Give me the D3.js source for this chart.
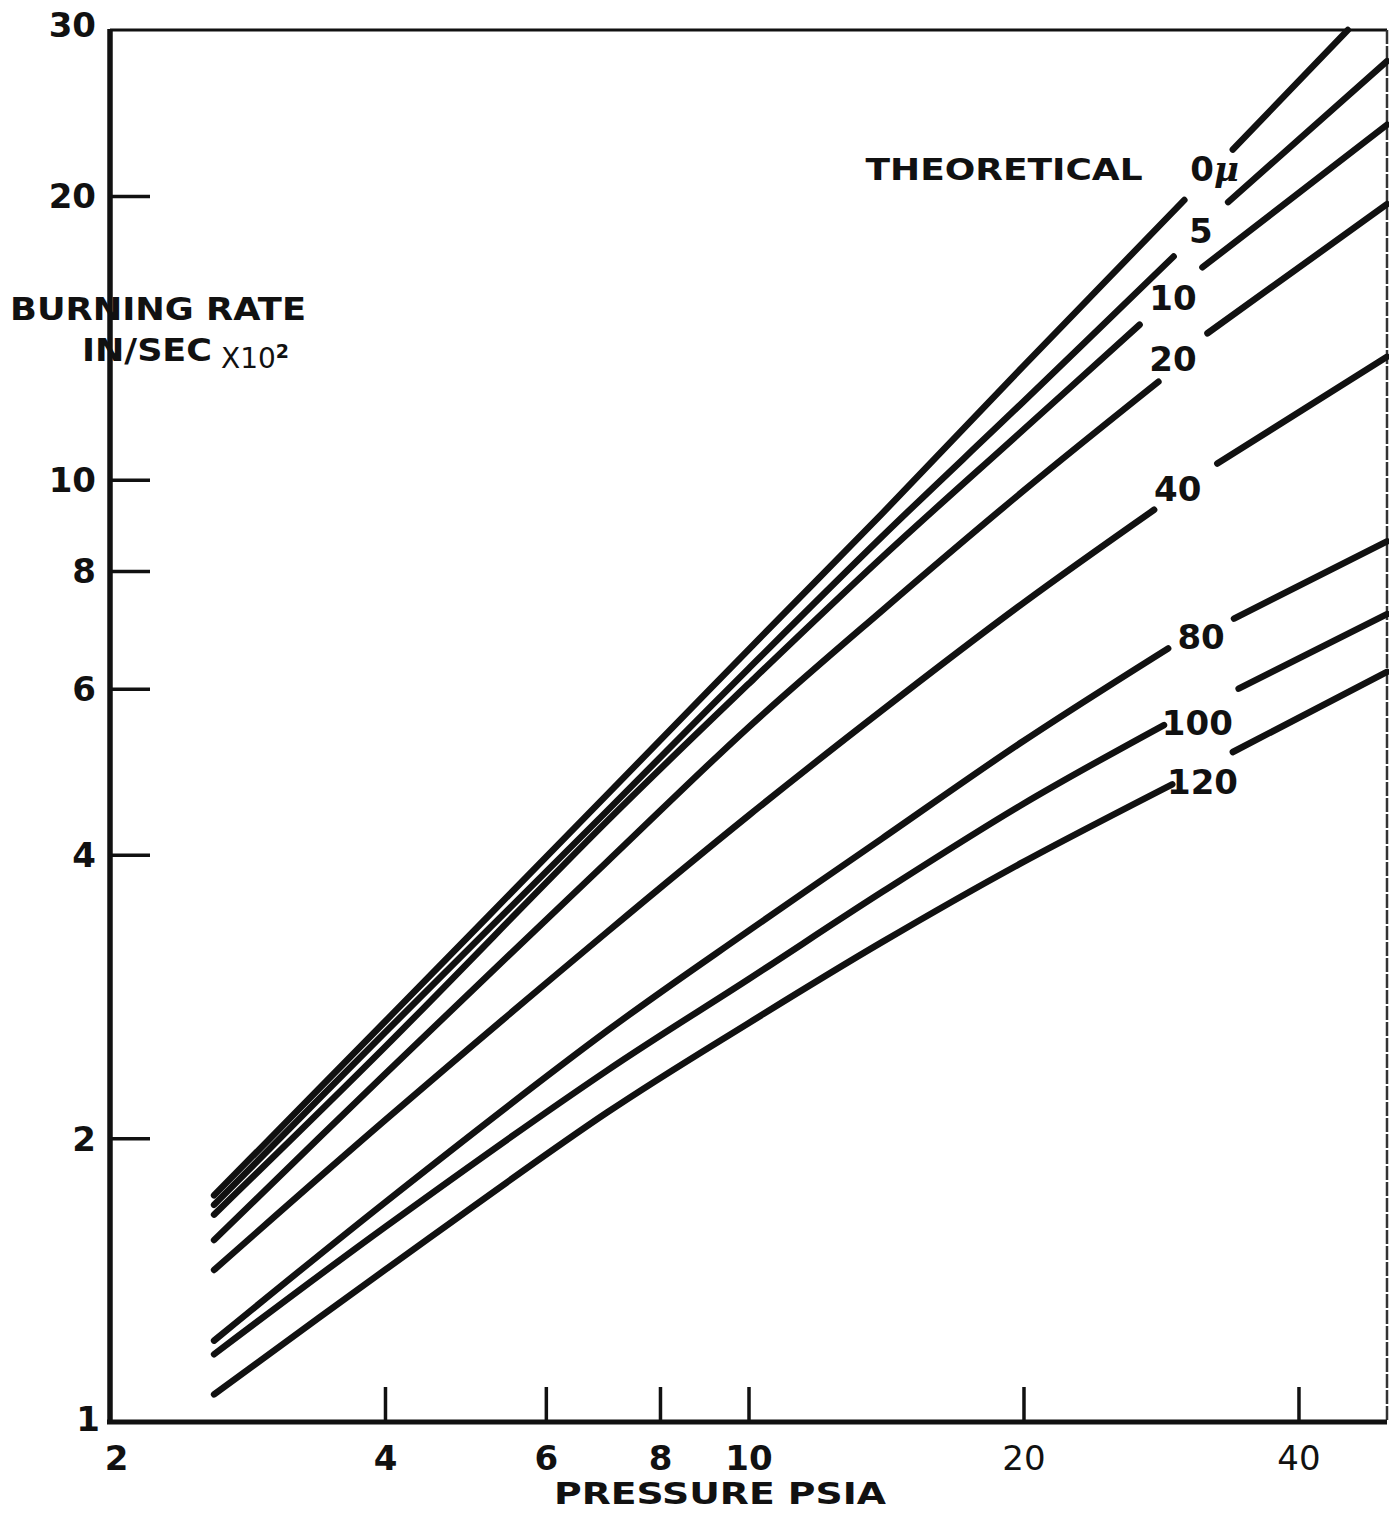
<!DOCTYPE html>
<html>
<head>
<meta charset="utf-8">
<script src="https://cdn.jsdelivr.net/npm/d3@7"></script>
<style>
  html, body { margin: 0; padding: 0; background: #fff; }
  svg { display: block; }
  text { font-family: "DejaVu Sans", sans-serif; fill: #111; }
</style>
</head>
<body>
<svg id="chart" width="1389" height="1513"></svg>
<script>
// particle size labels (microns)
const sizes = ["0", "5", "10", "20", "40", "80", "100", "120"];

// pressure (psia) where the lower part of each curve was read
const pressures = [2.6, 4, 7, 10, 14, 20];

// burning rate, in/sec x 10^2, at those pressures
const rate0 = [1.74, 2.66, 4.63, 6.6, 9.2, 13.2];
const rate5 = [1.70, 2.59, 4.45, 6.3, 8.7, 12.1];
const rate10 = [1.66, 2.50, 4.34, 6.07, 8.27, 11.3];
const rate20 = [1.56, 2.34, 3.93, 5.46, 7.26, 9.73];
const rate40 = [1.45, 2.09, 3.31, 4.40, 5.69, 7.40];
const rate80 = [1.22, 1.71, 2.60, 3.32, 4.16, 5.28];
const rate100 = [1.18, 1.61, 2.36, 2.95, 3.65, 4.53];
const rate120 = [1.07, 1.45, 2.13, 2.65, 3.23, 3.93];
const rates = [rate0, rate5, rate10, rate20, rate40, rate80, rate100, rate120];

// [pressure, rate] where each curve is broken for its label, and where it ends
const breakLow = [[30.0, 19.8], [29.2, 17.25], [26.8, 14.6], [28.1, 12.7], [27.8, 9.29], [28.8, 6.62], [28.5, 5.49], [29.1, 4.75]];
const breakHigh = [[33.9, 22.4], [33.5, 19.7], [31.4, 16.8], [31.8, 14.3], [32.6, 10.4], [34.0, 7.12], [34.4, 6.0], [33.9, 5.14]];
const lineEnd = [[45.3, 30], [50, 27.8], [50, 23.8], [50, 19.6], [50, 13.5], [50, 8.6], [50, 7.2], [50, 6.25]];

// axis ticks
const xTicks = [2, 4, 6, 8, 10, 20, 40];
const yTicks = [1, 2, 4, 6, 8, 10, 20, 30];

var svg = d3.select("#chart");
var plotLeft = 110, plotRight = 1387, plotTop = 30, plotBottom = 1422;

var x = d3.scaleLog().domain([2, 50]).range([plotLeft, plotRight]);
var y = d3.scaleLog().domain([1, 30]).range([plotBottom, plotTop]);

// frame
svg.append("line").attr("x1", plotLeft).attr("x2", plotRight).attr("y1", plotTop).attr("y2", plotTop)
  .attr("stroke", "#111").attr("stroke-width", 3);
svg.append("line").attr("x1", plotRight).attr("x2", plotRight).attr("y1", plotTop).attr("y2", plotBottom)
  .attr("stroke", "#333").attr("stroke-width", 2.5).attr("stroke-dasharray", "14 2");

// y axis: ticks inside, labels outside
var yAxis = svg.append("g")
  .attr("transform", `translate(${plotLeft},0)`)
  .call(d3.axisRight(y).tickValues(yTicks).tickSize(40).tickFormat(d3.format("d")));
yAxis.select(".domain").remove();
yAxis.selectAll(".tick line").attr("stroke", "#111").attr("stroke-width", 3.5)
  .filter(d => d === 1 || d === 30).remove();
yAxis.selectAll(".tick text")
  .attr("x", -14).attr("dy", "0.35em")
  .attr("text-anchor", "end")
  .style("font-size", "34px").style("font-weight", "bold").style("font-family", "DejaVu Sans")
  .attr("fill", "#111");
yAxis.selectAll(".tick").filter(d => d === 30).select("text").attr("dy", "0.2em");
yAxis.selectAll(".tick").filter(d => d === 1).select("text").attr("dy", "0.25em").attr("x", -10);

// x axis: ticks point up, labels below
var xAxis = svg.append("g")
  .attr("transform", `translate(0,${plotBottom})`)
  .call(d3.axisTop(x).tickValues(xTicks).tickSize(35).tickFormat(d3.format("d")));
xAxis.select(".domain").remove();
xAxis.selectAll(".tick line").attr("stroke", "#111").attr("stroke-width", 3.5)
  .filter(d => d === 2).remove();
xAxis.selectAll(".tick text")
  .attr("y", 36).attr("dy", "0.35em")
  .style("font-size", "34px").style("font-weight", "bold").style("font-family", "DejaVu Sans")
  .attr("fill", "#111");
xAxis.selectAll(".tick").filter(d => d === 2).select("text").attr("dx", 6);
xAxis.selectAll(".tick").filter(d => d >= 20).select("text").style("font-weight", "normal");

// axis lines on top of the ticks
svg.append("line").attr("x1", plotLeft).attr("x2", plotLeft).attr("y1", plotTop - 1).attr("y2", plotBottom + 2)
  .attr("stroke", "#111").attr("stroke-width", 5.5);
svg.append("line").attr("x1", plotLeft - 3).attr("x2", plotRight).attr("y1", plotBottom).attr("y2", plotBottom)
  .attr("stroke", "#111").attr("stroke-width", 5);

// axis titles
svg.append("text").attr("x", 10).attr("y", 320).text("BURNING RATE")
  .attr("textLength", 296).attr("lengthAdjust", "spacingAndGlyphs")
  .style("font-size", "32px").style("font-weight", "bold");
svg.append("text").attr("x", 82).attr("y", 361).text("IN/SEC")
  .attr("textLength", 130).attr("lengthAdjust", "spacingAndGlyphs")
  .style("font-size", "32px").style("font-weight", "bold");
var mult = svg.append("text").attr("x", 221).attr("y", 368).style("font-size", "28px");
mult.append("tspan").text("X10");
mult.append("tspan").attr("dy", -10).style("font-size", "19px").style("font-weight", "bold").text("2");

svg.append("text").attr("x", 720).attr("y", 1504).attr("text-anchor", "middle")
  .text("PRESSURE  PSIA")
  .attr("textLength", 332).attr("lengthAdjust", "spacingAndGlyphs")
  .style("font-size", "30px").style("font-weight", "bold");

// curves
var line = d3.line()
  .x(d => x(d[0]))
  .y(d => y(d[1]))
  .curve(d3.curveCatmullRom.alpha(0.5));

var curves = svg.append("g")
  .attr("fill", "none").attr("stroke", "#111")
  .attr("stroke-width", 6.5).attr("stroke-linecap", "round");

// small nudges so each label sits where the original lettering does
var labelDx = [6, 0, 2, -10, -8, 0, -4, 0];
var labelDy = [-6, 2, 2, 2, 2, 4, 16, 14];

sizes.forEach(function (s, i) {
  var lower = pressures.map((p, j) => [p, rates[i][j]]).concat([breakLow[i]]);
  var upper = [breakHigh[i], lineEnd[i]];
  curves.append("path").attr("d", line(lower));
  curves.append("path").attr("d", line(upper));

  // label sits in the break
  var cx = (x(breakLow[i][0]) + x(breakHigh[i][0])) / 2 + labelDx[i];
  var cy = (y(breakLow[i][1]) + y(breakHigh[i][1])) / 2 + labelDy[i];
  var t = svg.append("text")
    .attr("x", cx).attr("y", cy)
    .attr("dy", "0.35em").attr("text-anchor", "middle")
    .style("font-size", "34px").style("font-weight", "bold");
  if (i === 0) {
    t.append("tspan").text("0");
    t.append("tspan").style("font-style", "italic").style("font-family", "DejaVu Serif").text("μ");
    svg.append("text")
      .attr("x", cx - 72).attr("y", cy).attr("dy", "0.35em")
      .attr("text-anchor", "end").text("THEORETICAL")
      .attr("textLength", 277).attr("lengthAdjust", "spacingAndGlyphs")
      .style("font-size", "31px").style("font-weight", "bold");
  } else {
    t.text(s);
  }
});
</script>
</body>
</html>
